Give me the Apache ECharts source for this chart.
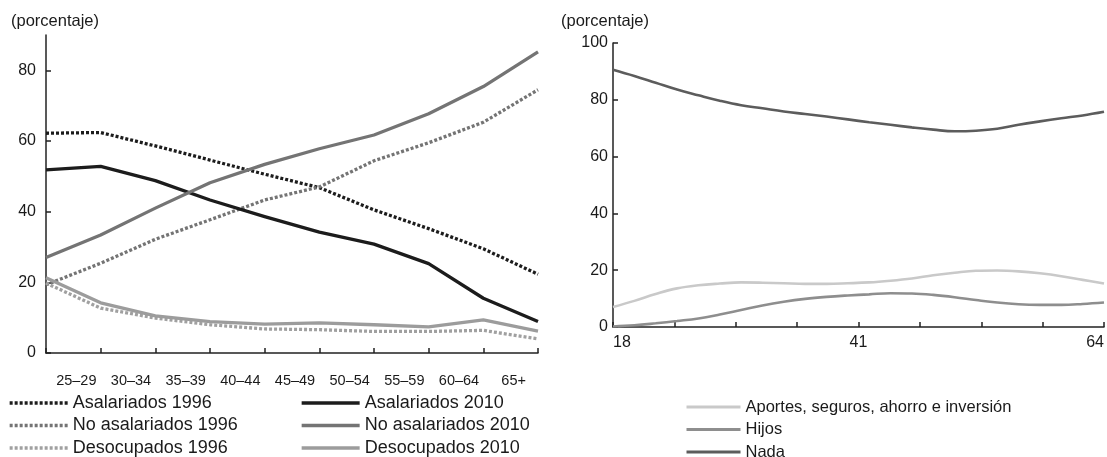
<!DOCTYPE html>
<html>
<head>
<meta charset="utf-8">
<script src="https://cdn.jsdelivr.net/npm/echarts@6/dist/echarts.min.js"></script>
<style>
html,body{margin:0;padding:0;background:#fff;}
#chart{width:1107px;height:457px;}
</style>
</head>
<body>
<div id="chart"></div>
<script>
// ---- Left panel data ----
const pointCats = ['20–24','25–29','30–34','35–39','40–44','45–49','50–54','55–59','60–64','65+'];
const ageLabels = ['25–29','30–34','35–39','40–44','45–49','50–54','55–59','60–64','65+'];
const asal1996   = [62.2, 62.4, 58.6, 54.6, 50.6, 46.8, 40.5, 35.2, 29.5, 22.3];
const asal2010   = [51.8, 52.8, 48.8, 43.3, 38.6, 34.2, 30.8, 25.3, 15.5, 8.9];
const noAsal1996 = [19.3, 25.4, 32.2, 37.7, 43.3, 47.0, 54.4, 59.5, 65.3, 74.5];
const noAsal2010 = [27.0, 33.4, 41.0, 48.2, 53.4, 57.8, 61.7, 67.7, 75.4, 85.2];
const desoc1996  = [19.8, 12.7, 9.9, 8.0, 6.8, 6.6, 6.1, 6.1, 6.4, 4.0];
const desoc2010  = [21.3, 14.2, 10.5, 8.9, 8.2, 8.5, 8.0, 7.4, 9.4, 6.2];
const leftTicks  = [0, 20, 40, 60, 80];

// ---- Right panel data ----
const ages    = [18,20,22,24,26,28,30,32,34,36,38,40,42,44,46,48,50,52,54,56,58,60,62,64];
const aportes = [7.0,9.2,11.6,13.6,14.7,15.3,15.7,15.6,15.4,15.2,15.2,15.4,15.7,16.3,17.1,18.2,19.1,19.8,19.9,19.6,18.9,17.9,16.6,15.3];
const hijos   = [0.2,0.6,1.3,2.1,3.0,4.4,6.0,7.6,8.9,9.9,10.6,11.1,11.5,11.9,11.8,11.3,10.5,9.5,8.6,8.0,7.8,7.8,8.1,8.6];
const nada    = [90.6,88.4,86.0,83.6,81.6,79.7,78.1,77.0,75.9,75.0,74.1,73.1,72.1,71.2,70.3,69.5,68.9,69.1,69.8,71.2,72.4,73.5,74.5,75.8];
const rightXLabels = [18, 41, 64];
const rightXTicks  = [18, 23.75, 29.5, 35.25, 41, 46.75, 52.5, 58.25, 64];

const FONT = '"Liberation Sans", Arial, sans-serif';
const AX = {color:'#222', width:1.5};
const TXT = '#1a1a1a';

function pair(xs, ys){ return xs.map((x,i)=>[x, ys[i]]); }

function leftLine(name, data, color, dotted){
  return {
    name, type:'line', data, xAxisIndex:0, yAxisIndex:0,
    symbol:'none', showSymbol:false,
    lineStyle:{color, width:3.3, type: dotted ? [3,2] : 'solid', cap:'butt', join:'round'},
    itemStyle:{color}
  };
}
function rightLine(name, vals, color){
  return {
    name, type:'line', data: pair(ages, vals), xAxisIndex:2, yAxisIndex:1,
    symbol:'none', showSymbol:false, smooth:0.4,
    lineStyle:{color, width:2.6},
    itemStyle:{color}
  };
}
function legendBox(names, left, top, iw, lw, fs, lh, gap){
  return {
    data:names, orient:'vertical', left, top, height:80, padding:0,
    itemWidth:iw, itemHeight:4, itemGap:gap,
    itemStyle:{opacity:0, borderWidth:0},
    lineStyle:{width:lw},
    textStyle:{fontSize:fs, color:TXT, lineHeight:lh, fontFamily:FONT}
  };
}

const chart = echarts.init(document.getElementById('chart'), null, {renderer:'canvas'});
chart.setOption({
  animation:false,
  textStyle:{fontFamily:FONT},
  title:[
    {text:'(porcentaje)', left:6, top:8, textStyle:{fontSize:16.5, fontWeight:'normal', color:TXT, fontFamily:FONT}},
    {text:'(porcentaje)', left:556, top:8, textStyle:{fontSize:16.5, fontWeight:'normal', color:TXT, fontFamily:FONT}}
  ],
  grid:[
    {left:46, right:569, top:35, bottom:104},
    {left:613, right:1, top:43, bottom:130}
  ],
  xAxis:[
    {type:'category', gridIndex:0, data:pointCats, boundaryGap:false,
     axisLine:{lineStyle:AX}, axisTick:{inside:true, length:5, interval:0, lineStyle:AX},
     axisLabel:{show:false}, splitLine:{show:false}},
    {type:'category', gridIndex:0, data:ageLabels, boundaryGap:true, position:'bottom',
     axisLine:{show:false}, axisTick:{show:false},
     axisLabel:{interval:0, fontSize:14.5, color:TXT, margin:20, padding:[0,0,0,6], fontFamily:FONT}},
    {type:'value', gridIndex:1, min:18, max:64,
     axisLine:{lineStyle:AX},
     axisTick:{inside:true, length:5, lineStyle:AX, customValues:rightXTicks},
     axisLabel:{customValues:rightXLabels, fontSize:16, color:TXT, margin:8, fontFamily:FONT,
                alignMinLabel:'left', alignMaxLabel:'right'},
     splitLine:{show:false}}
  ],
  yAxis:[
    {type:'value', gridIndex:0, min:0, max:90,
     axisLine:{show:true, lineStyle:AX},
     axisTick:{show:true, inside:true, length:5, lineStyle:AX, customValues:leftTicks},
     axisLabel:{customValues:leftTicks, fontSize:16, color:TXT, margin:10, fontFamily:FONT},
     splitLine:{show:false}},
    {type:'value', gridIndex:1, min:0, max:100, interval:20,
     axisLine:{show:true, lineStyle:AX},
     axisTick:{show:true, inside:true, length:5, lineStyle:AX},
     axisLabel:{fontSize:16, color:TXT, margin:5, fontFamily:FONT},
     splitLine:{show:false}}
  ],
  legend:[
    legendBox(['Asalariados 1996','No asalariados 1996','Desocupados 1996'], 8, 393, 58, 3.3, 18, 20, 2.5),
    legendBox(['Asalariados 2010','No asalariados 2010','Desocupados 2010'], 300, 393, 58, 3.3, 18, 20, 2.5),
    legendBox(['Aportes, seguros, ahorro e inversión','Hijos','Nada'], 685, 397, 54, 3, 16.5, 20, 2.5)
  ],
  series:[
    leftLine('Asalariados 1996', asal1996, '#1c1c1c', true),
    leftLine('No asalariados 1996', noAsal1996, '#747474', true),
    leftLine('Desocupados 1996', desoc1996, '#a0a0a0', true),
    leftLine('Asalariados 2010', asal2010, '#1c1c1c', false),
    leftLine('No asalariados 2010', noAsal2010, '#747474', false),
    leftLine('Desocupados 2010', desoc2010, '#9c9c9c', false),
    rightLine('Aportes, seguros, ahorro e inversión', aportes, '#c9c9c9'),
    rightLine('Hijos', hijos, '#8e8e8e'),
    rightLine('Nada', nada, '#5c5c5c')
  ]
});
</script>
</body>
</html>
